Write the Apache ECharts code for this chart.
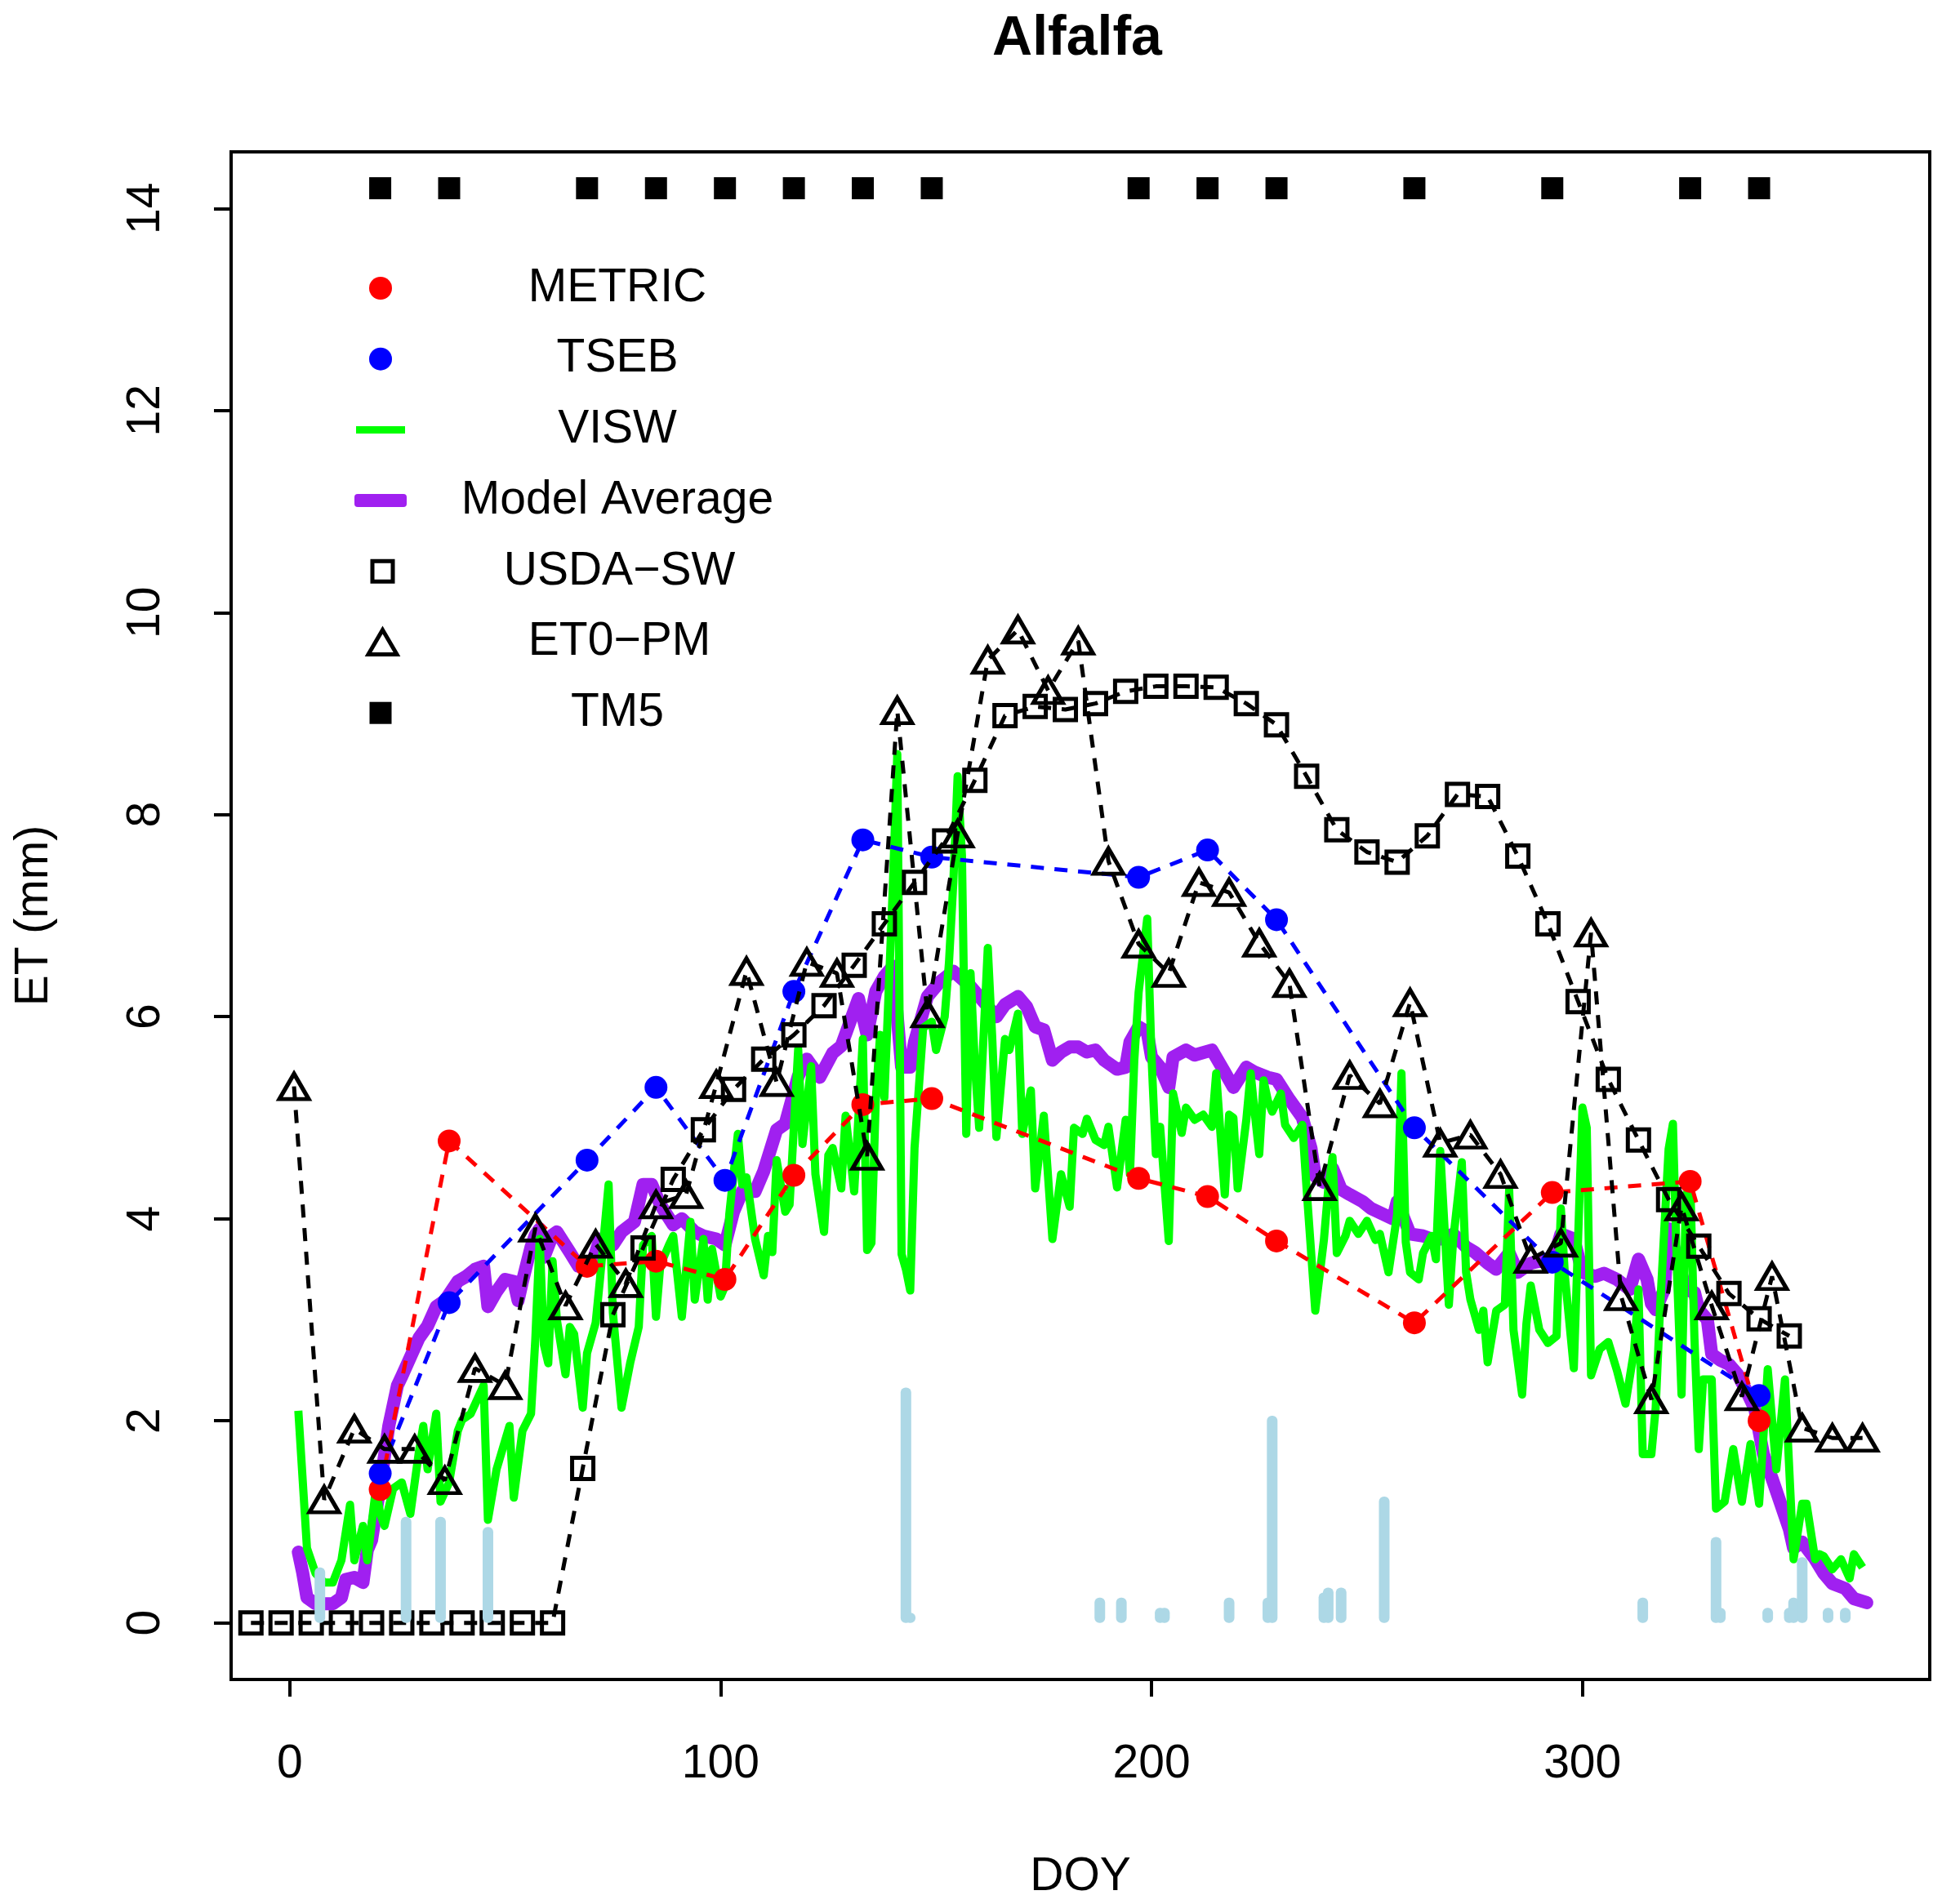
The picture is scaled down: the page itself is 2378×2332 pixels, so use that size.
<!DOCTYPE html>
<html>
<head>
<meta charset="utf-8">
<title>Alfalfa</title>
<script src="https://cdn.jsdelivr.net/npm/echarts@6/dist/echarts.min.js"></script>
<style>
html, body { margin: 0; padding: 0; background: #fff; }
#chart { width: 2378px; height: 2332px; }
</style>
</head>
<body>
<div id="chart"></div>
<script>
var FONT = 'Liberation Sans';

// Landsat overpass days
var overpassDays = [21, 37, 69, 85, 101, 117, 133, 149, 197, 213, 229, 261, 293, 325, 341];
var metricVals = [1.32, 4.77, 3.53, 3.58, 3.40, 4.43, 5.13, 5.19, 4.40, 4.22, 3.78, 2.97, 4.26, 4.37, 2.00];
var tm5Vals = [14.2, 14.2, 14.2, 14.2, 14.2, 14.2, 14.2, 14.2, 14.2, 14.2, 14.2, 14.2, 14.2, 14.2, 14.2];

var tsebDays = [21, 37, 69, 85, 101, 117, 133, 149, 197, 213, 229, 261, 293, 341];
var tsebVals = [1.48, 3.17, 4.58, 5.30, 4.38, 6.25, 7.75, 7.58, 7.38, 7.65, 6.96, 4.90, 3.57, 2.25];

// VISW daily
var viswDays = [
  2, 4, 6, 8, 10, 12, 14, 15, 17, 18,
  20, 21, 22, 24, 26, 28, 30, 31, 32, 34,
  35, 37, 39, 40, 42, 45, 46, 48, 51, 52,
  54, 56, 57, 58, 59, 60, 61, 62, 64, 65,
  66, 68, 69, 71, 72, 74, 75, 77, 79, 81,
  82, 84, 85, 86, 88, 89, 91, 93, 94, 96,
  97, 98, 100, 101, 102, 104, 105, 106, 108, 110,
  111, 112, 113, 115, 116, 118, 119, 121, 122, 124,
  125, 126, 128, 129, 131, 133, 134, 135, 136, 137,
  138, 139, 140, 141, 142, 143, 144, 145, 147, 149,
  150, 152, 153, 154, 155, 156, 157, 158, 159, 160,
  162, 163, 164, 166, 167, 169, 170, 172, 173, 175,
  177, 179, 181, 182, 184, 185, 187, 189, 190, 192,
  194, 195, 196, 197, 199, 200, 201, 202, 204, 205,
  207, 208, 210, 212, 214, 215, 217, 218, 219, 220,
  222, 223, 224, 225, 226, 227, 228, 230, 231, 233,
  235, 236, 238, 240, 241, 242, 243, 245, 246, 248,
  250, 252, 253, 255, 257, 258, 259, 260, 262, 263,
  265, 266, 267, 269, 270, 272, 273, 274, 276, 277,
  278, 280, 282, 283, 284, 286, 287, 288, 290, 292,
  294, 295, 296, 298, 300, 301, 302, 304, 306, 308,
  310, 312, 313, 314, 316, 317, 318, 320, 321, 322,
  323, 324, 325, 326, 327, 328, 330, 331, 333, 335,
  337, 339, 341, 343, 345, 347, 349, 351, 352, 354,
  355, 356, 358, 360, 362, 363, 365
];
var viswVals = [
  2.10, 0.74, 0.49, 0.40, 0.40, 0.62, 1.17, 0.62, 0.96, 0.62,
  1.33, 1.08, 0.96, 1.33, 1.39, 1.08, 1.70, 1.95, 1.52, 2.07,
  1.20, 1.39, 1.90, 2.01, 2.07, 2.35, 1.02, 1.52, 1.95, 1.24,
  1.90, 2.07, 2.81, 3.80, 2.75, 2.57, 3.58, 3.00, 2.46, 2.93,
  2.86, 2.13, 2.67, 2.97, 3.40, 4.34, 3.07, 2.13, 2.57, 2.93,
  3.74, 3.83, 3.03, 3.54, 3.74, 3.83, 3.03, 3.97, 3.20, 3.80,
  3.20, 3.70, 3.23, 3.33, 4.04, 4.84, 4.34, 4.41, 3.80, 3.44,
  3.83, 3.67, 4.58, 4.07, 4.14, 5.68, 4.74, 5.51, 4.44, 3.87,
  4.63, 4.70, 4.30, 5.02, 4.27, 5.78, 3.69, 3.76, 5.17, 5.82,
  5.20, 6.25, 7.33, 8.60, 3.65, 3.50, 3.29, 4.70, 5.89, 5.95,
  5.67, 6.00, 6.54, 7.33, 8.38, 7.60, 4.84, 6.43, 5.53, 4.90,
  6.68, 5.82, 4.81, 5.78, 5.67, 6.03, 4.84, 5.27, 4.30, 5.02,
  3.80, 4.44, 4.12, 4.90, 4.84, 4.99, 4.78, 4.73, 4.91, 4.31,
  4.98, 4.44, 5.57, 6.24, 6.97, 5.60, 4.64, 4.91, 3.78, 5.24,
  4.85, 5.10, 4.98, 5.03, 4.91, 5.44, 4.24, 5.03, 5.00, 4.30,
  4.98, 5.44, 5.03, 4.64, 5.37, 5.17, 5.06, 5.24, 4.93, 4.80,
  4.93, 4.29, 3.09, 3.79, 4.29, 4.61, 3.66, 3.83, 3.98, 3.85,
  3.98, 3.79, 3.85, 3.47, 4.04, 5.44, 3.77, 3.47, 3.40, 3.66,
  3.83, 3.60, 4.67, 3.15, 3.79, 4.56, 3.47, 3.20, 2.90, 3.09,
  2.58, 3.09, 3.15, 4.29, 2.90, 2.26, 2.96, 3.34, 2.90, 2.77,
  2.84, 4.10, 3.40, 2.52, 5.10, 4.90, 2.45, 2.71, 2.78, 2.50,
  2.17, 2.70, 3.30, 1.67, 1.67, 2.13, 3.10, 4.69, 4.94, 3.40,
  2.26, 4.20, 4.40, 2.81, 1.72, 2.41, 2.41, 1.13, 1.20, 1.72,
  1.20, 1.77, 1.18, 2.51, 1.52, 2.41, 0.63, 1.18, 1.18, 0.63,
  0.68, 0.66, 0.53, 0.63, 0.44, 0.68, 0.55
];

// Model average daily
var avgDays = [
  2, 3, 4, 6, 8, 10, 12, 13, 15, 17,
  18, 19, 21, 23, 25, 26, 28, 30, 32, 34,
  36, 39, 41, 43, 45, 46, 48, 50, 52, 53,
  54, 56, 57, 58, 59, 61, 62, 65, 67, 70,
  72, 75, 77, 80, 82, 84, 86, 89, 91, 94,
  96, 99, 101, 103, 105, 108, 110, 113, 115, 118,
  120, 123, 126, 128, 132, 134, 136, 138, 140, 141,
  142, 144, 145, 148, 151, 154, 158, 161, 164, 166,
  169, 171, 173, 175, 177, 179, 181, 183, 185, 187,
  189, 192, 194, 195, 197, 199, 200, 202, 204, 205,
  208, 210, 214, 217, 219, 222, 224, 227, 229, 232,
  235, 237, 238, 240, 242, 244, 246, 249, 251, 254,
  256, 257, 260, 263, 265, 268, 270, 273, 275, 278,
  280, 283, 285, 288, 290, 293, 295, 298, 300, 303,
  305, 308, 311, 313, 315, 316, 317, 319, 320, 322,
  324, 326, 327, 329, 330, 332, 334, 336, 338, 340,
  342, 344, 346, 348, 349, 351, 354, 356, 358, 361,
  363, 366
];
var avgVals = [
  0.70, 0.50, 0.25, 0.19, 0.19, 0.19, 0.25, 0.43, 0.45, 0.40,
  0.72, 0.82, 1.36, 1.95, 2.35, 2.44, 2.63, 2.82, 2.94, 3.13,
  3.19, 3.38, 3.43, 3.50, 3.53, 3.13, 3.28, 3.40, 3.38, 3.19,
  3.38, 3.72, 3.84, 3.90, 3.62, 3.84, 3.87, 3.67, 3.53, 3.53,
  3.80, 3.74, 3.87, 3.97, 4.34, 4.34, 4.14, 3.94, 4.00, 3.87,
  3.83, 3.80, 3.74, 4.07, 4.27, 4.27, 4.47, 4.88, 4.94, 5.41,
  5.58, 5.40, 5.64, 5.71, 6.18, 5.82, 6.25, 6.40, 6.50, 6.00,
  5.50, 5.50, 5.75, 6.20, 6.35, 6.45, 6.30, 6.15, 6.00, 6.12,
  6.20, 6.10, 5.90, 5.87, 5.57, 5.65, 5.70, 5.70, 5.65, 5.67,
  5.57, 5.48, 5.50, 5.75, 5.90, 5.85, 5.60, 5.50, 5.30, 5.60,
  5.67, 5.62, 5.67, 5.45, 5.30, 5.50, 5.45, 5.40, 5.38, 5.18,
  5.00, 4.70, 4.42, 4.36, 4.50, 4.29, 4.24, 4.17, 4.10, 4.04,
  4.00, 4.17, 3.85, 3.83, 3.80, 3.80, 3.85, 3.72, 3.67, 3.56,
  3.50, 3.66, 3.47, 3.56, 3.58, 3.56, 3.85, 3.80, 3.47, 3.43,
  3.46, 3.40, 3.30, 3.60, 3.40, 3.16, 3.10, 3.30, 3.90, 3.60,
  3.30, 3.27, 3.10, 3.00, 2.66, 2.60, 2.56, 2.46, 2.30, 2.12,
  1.67, 1.43, 1.18, 0.93, 0.74, 0.80, 0.63, 0.49, 0.39, 0.34,
  0.24, 0.20
];

// USDA-SW weekly
var usdaDays = [
  -9, -2, 5, 12, 19, 26, 33, 40, 47, 54,
  61, 68, 75, 82, 89, 96, 103, 110, 117, 124,
  131, 138, 145, 152, 159, 166, 173, 180, 187, 194,
  201, 208, 215, 222, 229, 236, 243, 250, 257, 264,
  271, 278, 285, 292, 299, 306, 313, 320, 327, 334,
  341, 348
];
var usdaVals = [
  0, 0, 0, 0, 0, 0, 0, 0, 0, 0,
  0, 1.53, 3.05, 3.71, 4.39, 4.88, 5.28, 5.58, 5.82, 6.11,
  6.51, 6.92, 7.33, 7.74, 8.34, 8.98, 9.07, 9.04, 9.10, 9.22,
  9.27, 9.27, 9.26, 9.10, 8.89, 8.38, 7.85, 7.63, 7.53, 7.79,
  8.20, 8.18, 7.59, 6.92, 6.15, 5.38, 4.78, 4.19, 3.73, 3.26,
  3.01, 2.84
];

// ET0-PM weekly
var et0Days = [
  1, 8, 15, 22, 29, 36, 43, 50, 57, 64,
  71, 78, 85, 92, 99, 106, 113, 120, 127, 134,
  141, 148, 155, 162, 169, 176, 183, 190, 197, 204,
  211, 218, 225, 232, 239, 246, 253, 260, 267, 274,
  281, 288, 295, 302, 309, 316, 323, 330, 337, 344,
  351, 358, 365
];
var et0Vals = [
  5.31, 1.22, 1.92, 1.72, 1.72, 1.41, 2.52, 2.35, 3.91, 3.14,
  3.75, 3.36, 4.14, 4.24, 5.33, 6.45, 5.35, 6.54, 6.43, 4.62,
  9.03, 6.03, 7.81, 9.53, 9.83, 9.23, 9.72, 7.54, 6.72, 6.43,
  7.33, 7.23, 6.73, 6.33, 4.32, 5.42, 5.14, 6.14, 4.75, 4.83,
  4.44, 3.60, 3.76, 6.83, 3.23, 2.21, 4.12, 3.14, 2.24, 3.43,
  1.93, 1.83, 1.83
];

// rain / irrigation (light blue sticks)
var precipDays = [7, 27, 35, 46, 143, 144, 188, 193, 202, 203, 218, 227, 228, 240, 241, 244, 254, 314, 331, 332, 343, 348, 349, 351, 357, 361];
var precipVals = [0.55, 1.05, 1.05, 0.95, 2.33, 0.10, 0.25, 0.25, 0.15, 0.15, 0.25, 0.25, 2.05, 0.30, 0.35, 0.35, 1.25, 0.25, 0.85, 0.15, 0.15, 0.15, 0.25, 0.65, 0.15, 0.15];

var xTicks = [0, 100, 200, 300];
var yTicks = [0, 2, 4, 6, 8, 10, 12, 14];

function zip(xs, ys) {
    return xs.map(function (x, i) { return [x, ys[i]]; });
}

var myChart = echarts.init(document.getElementById('chart'));

var dash = [16, 13];
var openStyle = { color: 'rgba(0,0,0,0)', borderColor: '#000', borderWidth: 5, opacity: 1 };

// one legend block per row, so every key can have its own symbol size
function legendRow(name, row, icon, w, h, itemStyle) {
    return {
        data: [{ name: name, icon: icon }],
        left: 466 - w / 2,
        top: 353 + row * 86.7 - 30,
        itemWidth: w,
        itemHeight: h,
        padding: 0,
        selectedMode: false,
        symbolKeepAspect: false,
        itemStyle: itemStyle,
        formatter: '{c|{name}}',
        textStyle: {
            color: '#000', fontFamily: FONT, fontSize: 57, lineHeight: 60,
            rich: { c: { width: 570 - w, align: 'center', color: '#000', fontFamily: FONT, fontSize: 57, lineHeight: 60 } }
        }
    };
}

var option = {
    animation: false,
    backgroundColor: '#fff',
    title: {
        text: 'Alfalfa',
        left: 1314,
        top: 9,
        textAlign: 'center',
        textStyle: { fontFamily: FONT, fontSize: 68, fontWeight: 'bold', color: '#000' }
    },
    legend: [
        legendRow('METRIC', 0, 'circle', 28, 28, { color: '#FF0000', borderWidth: 0 }),
        legendRow('TSEB', 1, 'circle', 28, 28, { color: '#0000FF', borderWidth: 0 }),
        legendRow('VISW', 2, 'rect', 60, 9, { color: '#00FF00', borderWidth: 0 }),
        legendRow('Model Average', 3, 'roundRect', 64, 16, { color: '#A020F0', borderWidth: 0 }),
        legendRow('USDA\u2212SW', 4, 'rect', 25, 25, openStyle),
        legendRow('ET0\u2212PM', 5, 'triangle', 35, 30, openStyle),
        legendRow('TM5', 6, 'rect', 27, 27, { color: '#000', borderWidth: 0 })
    ],
    grid: {
        left: 283, right: 15, top: 186, bottom: 275,
        show: true, borderColor: '#000', borderWidth: 4,
        containLabel: false, outerBoundsMode: 'none'
    },
    xAxis: {
        type: 'value',
        min: -13.6, max: 380.6,
        name: 'DOY',
        nameLocation: 'middle',
        nameGap: 214,
        nameTextStyle: { fontFamily: FONT, fontSize: 57, color: '#000' },
        axisLine: { show: false, onZero: false },
        splitLine: { show: false },
        axisTick: { show: true, length: 21, customValues: xTicks, lineStyle: { color: '#000', width: 4 } },
        axisLabel: { customValues: xTicks, fontFamily: FONT, fontSize: 57, color: '#000', margin: 76 }
    },
    yAxis: {
        type: 'value',
        min: -0.56, max: 14.56,
        name: 'ET (mm)',
        nameLocation: 'middle',
        nameRotate: 90,
        nameGap: 212,
        nameTextStyle: { fontFamily: FONT, fontSize: 57, color: '#000' },
        axisLine: { show: false, onZero: false },
        splitLine: { show: false },
        axisTick: { show: true, length: 21, customValues: yTicks, lineStyle: { color: '#000', width: 4 } },
        axisLabel: { customValues: yTicks, rotate: 90, fontFamily: FONT, fontSize: 57, color: '#000', margin: 75 }
    },
    series: [
        {
            name: 'Model Average', type: 'line', z: 2,
            data: zip(avgDays, avgVals),
            symbol: 'none',
            itemStyle: { color: '#A020F0' },
            lineStyle: { color: '#A020F0', width: 16, cap: 'round', join: 'round' }
        },
        {
            name: 'VISW', type: 'line', z: 3,
            data: zip(viswDays, viswVals),
            symbol: 'none',
            itemStyle: { color: '#00FF00' },
            lineStyle: { color: '#00FF00', width: 10, join: 'round' }
        },
        {
            name: 'METRIC', type: 'line', z: 4,
            data: zip(overpassDays, metricVals),
            symbol: 'circle', symbolSize: 28,
            itemStyle: { color: '#FF0000' },
            lineStyle: { color: '#FF0000', width: 5, type: dash }
        },
        {
            name: 'TSEB', type: 'line', z: 4,
            data: zip(tsebDays, tsebVals),
            symbol: 'circle', symbolSize: 28,
            itemStyle: { color: '#0000FF' },
            lineStyle: { color: '#0000FF', width: 5, type: dash }
        },
        {
            name: 'USDA\u2212SW', type: 'line', z: 5,
            data: zip(usdaDays, usdaVals),
            symbol: 'rect', symbolSize: 26,
            itemStyle: openStyle,
            lineStyle: { color: '#000', width: 5, type: dash }
        },
        {
            name: 'ET0\u2212PM', type: 'line', z: 5,
            data: zip(et0Days, et0Vals),
            symbol: 'triangle', symbolSize: [36, 31],
            itemStyle: openStyle,
            lineStyle: { color: '#000', width: 5, type: dash }
        },
        {
            name: 'TM5', type: 'scatter', z: 5,
            data: zip(overpassDays, tm5Vals),
            symbol: 'rect', symbolSize: 27,
            itemStyle: { color: '#000', opacity: 1 }
        },
        {
            name: 'Precip', type: 'bar', z: 6,
            data: zip(precipDays, precipVals),
            barWidth: 13,
            itemStyle: { color: '#ADD8E6', borderRadius: 6 }
        }
    ]
};

myChart.setOption(option);
</script>
</body>
</html>
